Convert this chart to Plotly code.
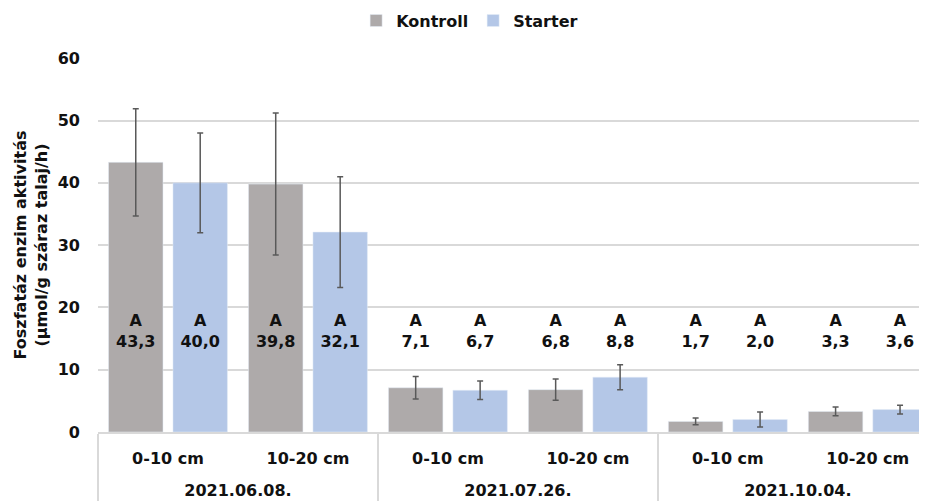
import plotly.graph_objects as go

dates = ["2021.06.08.", "2021.06.08.", "2021.07.26.", "2021.07.26.", "2021.10.04.", "2021.10.04."]
depths = ["0-10 cm", "10-20 cm", "0-10 cm", "10-20 cm", "0-10 cm", "10-20 cm"]

kontroll = [43.3, 39.8, 7.1, 6.8, 1.7, 3.3]
starter = [40.0, 32.1, 6.7, 8.8, 2.0, 3.6]
kontroll_err = [8.6, 11.4, 1.8, 1.7, 0.55, 0.7]
starter_err = [8.0, 8.9, 1.5, 2.0, 1.2, 0.7]
kontroll_letters = ["A", "A", "A", "A", "A", "A"]
starter_letters = ["A", "A", "A", "A", "A", "A"]

def fmt(v):
    return f"{v:.1f}".replace(".", ",")

LABEL_Y = 16
FONT = "DejaVu Sans, Verdana, sans-serif"
# extra blank line under depth labels pushes the date row down like the reference
x = [dates, [d + "<br><span style='font-size:22px'>&nbsp;</span>" for d in depths]]

fig = go.Figure()
fig.add_trace(go.Bar(
    name="Kontroll", x=x, y=kontroll, marker_color="#AEAAAA", offsetgroup="k",
    error_y=dict(type="data", array=kontroll_err, color="#595959", thickness=1.5, width=3),
))
fig.add_trace(go.Bar(
    name="Starter", x=x, y=starter, marker_color="#B4C7E7", offsetgroup="s",
    error_y=dict(type="data", array=starter_err, color="#595959", thickness=1.5, width=3),
))
fig.add_trace(go.Scatter(
    x=x, y=[LABEL_Y] * 6, mode="text", showlegend=False, hoverinfo="skip",
    text=[f"{l}<br>{fmt(v)}" for l, v in zip(kontroll_letters, kontroll)],
    textfont=dict(family=FONT, size=16, color="#111111", weight="bold"),
    offsetgroup="k",
))
fig.add_trace(go.Scatter(
    x=x, y=[LABEL_Y] * 6, mode="text", showlegend=False, hoverinfo="skip",
    text=[f"{l}<br>{fmt(v)}" for l, v in zip(starter_letters, starter)],
    textfont=dict(family=FONT, size=16, color="#111111", weight="bold"),
    offsetgroup="s",
))

fig.update_layout(
    width=927, height=504,
    margin=dict(l=90, r=0, t=50, b=80, autoexpand=False),
    plot_bgcolor="white", paper_bgcolor="white",
    barmode="group", bargap=0.079, bargroupgap=0.155,
    scattermode="group", scattergap=0.079,
    font=dict(family=FONT, size=16, color="#111111", weight="bold"),
    legend=dict(orientation="h", x=0.444, xanchor="center", y=1.1, yanchor="middle",
                font=dict(size=16, weight="bold"), traceorder="normal"),
    yaxis=dict(range=[0, 60.05], dtick=10, showgrid=True, gridcolor="#D9D9D9", gridwidth=1.5,
               zeroline=False, ticklabelstandoff=17,
               tickfont=dict(size=16, weight="bold"),
               title=dict(text="Foszfatáz enzim aktivitás<br>(µmol/g száraz talaj/h)",
                          font=dict(size=16, weight="bold"), standoff=6)),
    xaxis=dict(type="multicategory", range=[-0.5, 5.48], showline=True, linecolor="#D9D9D9",
               linewidth=2, showdividers=True, dividercolor="#D9D9D9", dividerwidth=1.5,
               ticklabelstandoff=11,
               tickfont=dict(size=16, weight="bold"), showgrid=False),
)

fig.write_html("out.html")
